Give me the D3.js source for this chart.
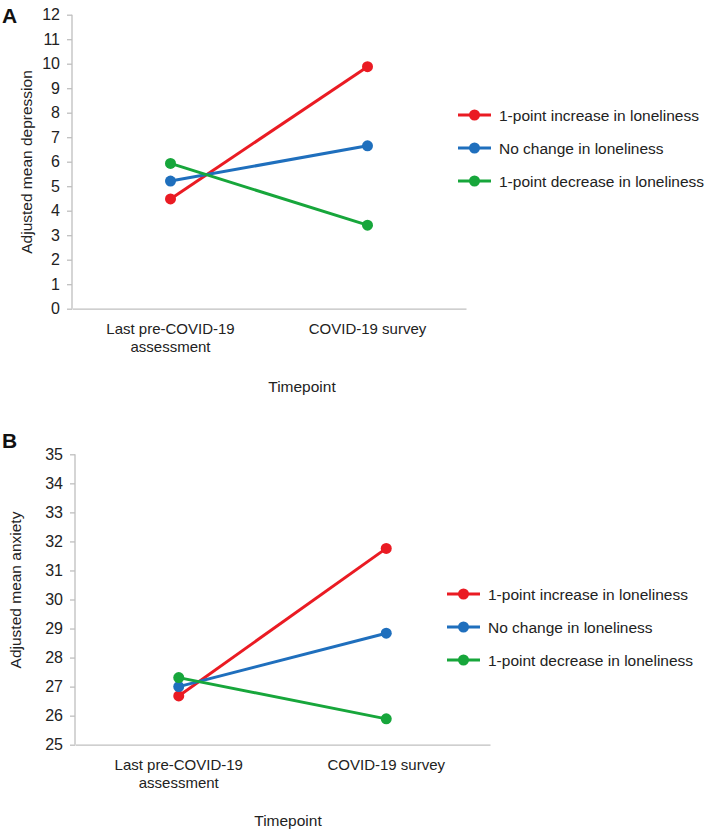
<!DOCTYPE html>
<html><head><meta charset="utf-8">
<script src="https://cdn.jsdelivr.net/npm/d3@7"></script>
<style>body{margin:0;background:#fff}svg{display:block;font-family:"Liberation Sans",Arial,sans-serif}</style>
</head><body>
<svg id="c" width="709" height="830"></svg>
<script>
const timepoints = ["Last pre-COVID-19|assessment", "COVID-19 survey"];
const seriesNames = ["1-point increase in loneliness", "No change in loneliness", "1-point decrease in loneliness"];
const seriesColors = ["#ea1b23", "#1f6fbd", "#17a63b"];
const depressionValues = [[4.48, 9.88], [5.21, 6.65], [5.93, 3.41]];
const anxietyValues = [[26.68, 31.76], [27.0, 28.84], [27.31, 25.89]];
const depressionTicks = d3.range(0, 13, 1);
const anxietyTicks = d3.range(25, 36, 1);

const svg = d3.select("#c");
const FF = "Liberation Sans, Arial, sans-serif";

function panel(cfg) {
  const g = svg.append("g");
  const x = d3.scaleBand().domain(timepoints).range([cfg.x0, cfg.x1]);
  const y = d3.scaleLinear().domain(cfg.domain).range([cfg.yb, cfg.yt]);
  // y axis
  const ya = g.append("g").attr("transform", `translate(${cfg.x0},0)`)
    .call(d3.axisLeft(y).tickValues(cfg.ticks).tickSize(5).tickPadding(7).tickFormat(d3.format("d")));
  ya.select(".domain").attr("stroke", "#bfbfbf").attr("stroke-width", 1.3).attr("d", `M0,${cfg.yt}V${cfg.yb}`);
  ya.selectAll(".tick line").attr("stroke", "#bfbfbf").attr("stroke-width", 1.3);
  ya.selectAll(".tick text").attr("font-size", 16).attr("fill", "#222").attr("font-family", FF);
  // x axis
  const xa = g.append("g").attr("transform", `translate(0,${cfg.yb})`)
    .call(d3.axisBottom(x).tickSize(0).tickFormat(""));
  xa.select(".domain").attr("stroke", "#bfbfbf").attr("stroke-width", 1.3);
  xa.selectAll(".tick").each(function(d) {
    const t = d3.select(this).append("text").attr("fill", "#222").attr("font-size", 15)
      .attr("text-anchor", "middle").attr("font-family", FF);
    d.split("|").forEach((s, i) => t.append("tspan").attr("x", 0).attr("y", cfg.lab1 + i * 18).text(s));
  });
  // titles
  g.append("text").attr("x", cfg.xtX).attr("y", cfg.xtY).attr("text-anchor", "middle")
    .attr("font-size", 15.5).attr("fill", "#222").text("Timepoint");
  g.append("text").attr("transform", `translate(${cfg.ytX},${cfg.ytY}) rotate(-90)`)
    .attr("text-anchor", "middle").attr("font-size", 15.5).attr("fill", "#222").text(cfg.ytitle);
  g.append("text").attr("x", 2).attr("y", cfg.letterY).attr("font-size", 21).attr("font-weight", "bold")
    .attr("font-family", FF).attr("fill", "#111").text(cfg.letter);
  // lines
  const line = d3.line().x((v, i) => x(timepoints[i]) + x.bandwidth() / 2).y(v => y(v));
  cfg.values.forEach((vals, si) => {
    g.append("path").attr("d", line(vals)).attr("fill", "none")
      .attr("stroke", seriesColors[si]).attr("stroke-width", 3);
  });
  cfg.values.forEach((vals, si) => {
    g.selectAll(null).data(vals).enter().append("circle")
      .attr("cx", (v, i) => x(timepoints[i]) + x.bandwidth() / 2).attr("cy", v => y(v))
      .attr("r", 5.5).attr("fill", seriesColors[si]);
  });
  // legend
  seriesNames.forEach((n, i) => {
    const ly = cfg.legY + i * 33;
    g.append("line").attr("x1", cfg.legX).attr("x2", cfg.legX + 33).attr("y1", ly).attr("y2", ly)
      .attr("stroke", seriesColors[i]).attr("stroke-width", 3);
    g.append("circle").attr("cx", cfg.legX + 16.5).attr("cy", ly).attr("r", 5.5).attr("fill", seriesColors[i]);
    g.append("text").attr("x", cfg.legX + 41).attr("y", ly + 5.5).attr("font-size", 15.5)
      .attr("fill", "#222").text(n);
  });
}

panel({letter: "A", letterY: 23, x0: 72, x1: 466, yt: 14.7, yb: 308.7, domain: [0, 12], ticks: depressionTicks,
  values: depressionValues, ytitle: "Adjusted mean depression", ytX: 32, ytY: 162, lab1: 25, xtX: 302, xtY: 392,
  legX: 458, legY: 115});
panel({letter: "B", letterY: 448, x0: 75, x1: 490, yt: 454.3, yb: 744.7, domain: [25, 35], ticks: anxietyTicks,
  values: anxietyValues, ytitle: "Adjusted mean anxiety", ytX: 21, ytY: 590, lab1: 25, xtX: 288, xtY: 826,
  legX: 447, legY: 594});
</script>
</body></html>
